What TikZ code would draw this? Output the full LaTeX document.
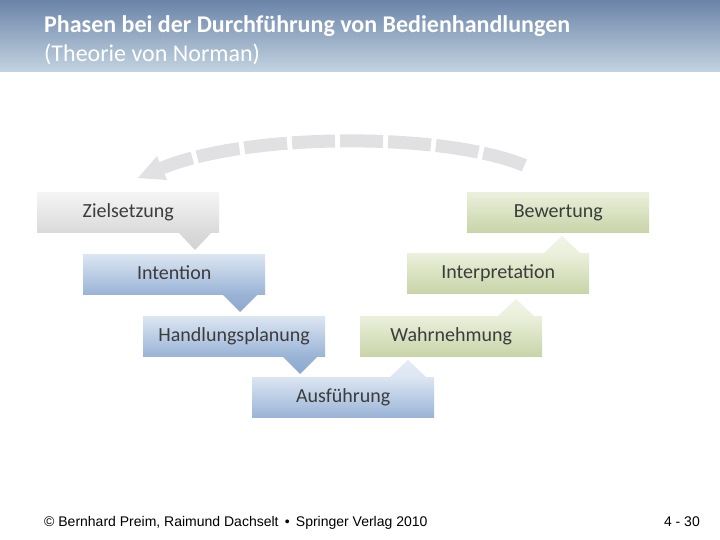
\documentclass[tikz,border=0pt]{standalone}
\usepackage{fontspec}
\setmainfont{Carlito}
\newfontfamily\footfont{Liberation Sans}
\definecolor{htop}{HTML}{6B84A8}
\definecolor{hbot}{HTML}{C3D4E1}
\definecolor{txt}{HTML}{3C3C3C}
\definecolor{gtop}{HTML}{F5F5F5}
\definecolor{gbot}{HTML}{DADADA}
\definecolor{gtri}{HTML}{D2D2D2}
\definecolor{btop}{HTML}{DCE6F2}
\definecolor{bbot}{HTML}{9AB4D6}
\definecolor{btri}{HTML}{8CA8CF}
\definecolor{ntop}{HTML}{EBF0DC}
\definecolor{nbot}{HTML}{C8D4A8}
\definecolor{arcgray}{HTML}{E1E1E3}
\begin{document}
\begin{tikzpicture}[x=1pt,y=-1pt,
  phase/.style={anchor=north west, minimum width=182pt, minimum height=40pt, inner sep=0pt, text height=15pt, text depth=4pt, text=txt, font=\fontsize{20}{22}\selectfont},
  grayphase/.style={phase, top color=gtop, bottom color=gbot},
  bluephase/.style={phase, top color=btop, bottom color=bbot},
  greenphase/.style={phase, top color=ntop, bottom color=nbot},
  headtext/.style={anchor=base west, text=white, inner sep=0pt},
  foottext/.style={text=black, inner sep=0pt, font=\footfont\fontsize{14}{16}\selectfont}
]
\useasboundingbox (0,0) rectangle (720,540);
\fill[white] (0,0) rectangle (720,540);
\shade[top color=htop, bottom color=hbot] (0,0) rectangle (720,72);
\node[headtext, font=\bfseries\fontsize{24}{28}\selectfont] (title) at (44,33) {Phasen bei der Durchführung von Bedienhandlungen};
\node[headtext, font=\fontsize{24}{28}\selectfont] (subtitle) at (44,62) {(Theorie von Norman)};

% dashed arc with arrow head
\coordinate (arcL) at (162,168);
\coordinate (arcR) at (528,167);
\draw[arcgray, line width=13pt, dash pattern=on 43pt off 5pt, dash phase=11pt] (arcL) .. controls (250,132) and (450,132) .. (arcR);
\fill[arcgray] (157,156) -- (138,178) -- (167,180) -- cycle;

% triangles (pointers)
\shade[top color=gbot, bottom color=gtri] (178,232) -- (212,232) -- (195,250) -- cycle;
\shade[top color=bbot, bottom color=btri] (222,294) -- (258,294) -- (240,312) -- cycle;
\shade[top color=bbot, bottom color=btri] (282,356) -- (318,356) -- (300,374) -- cycle;
\shade[top color=btop!80!white, bottom color=btop] (390,377) -- (426,377) -- (408,360) -- cycle;
\shade[top color=ntop!70!white, bottom color=ntop] (498,316) -- (534,316) -- (516,299) -- cycle;
\shade[top color=ntop!70!white, bottom color=ntop] (544,253) -- (580,253) -- (562,236) -- cycle;

% phases
\node[grayphase] (ziel) at (37,192) {Zielsetzung};
\node[bluephase] (intent) at (83,254) {Intention};
\node[bluephase] (handl) at (143,316) {Handlungsplanung};
\node[bluephase] (ausf) at (252,377) {Ausführung};
\node[greenphase] (wahr) at (360,316) {Wahrnehmung};
\node[greenphase] (interp) at (407,253) {Interpretation};
\node[greenphase] (bew) at (467,192) {Bewertung};

% footer
\node[foottext, anchor=base west] (foot) at (44,526) {© Bernhard Preim, Raimund Dachselt \,•\, Springer Verlag 2010};
\node[foottext, anchor=base east] (page) at (700,526) {4 - 30};
\end{tikzpicture}
\end{document}
